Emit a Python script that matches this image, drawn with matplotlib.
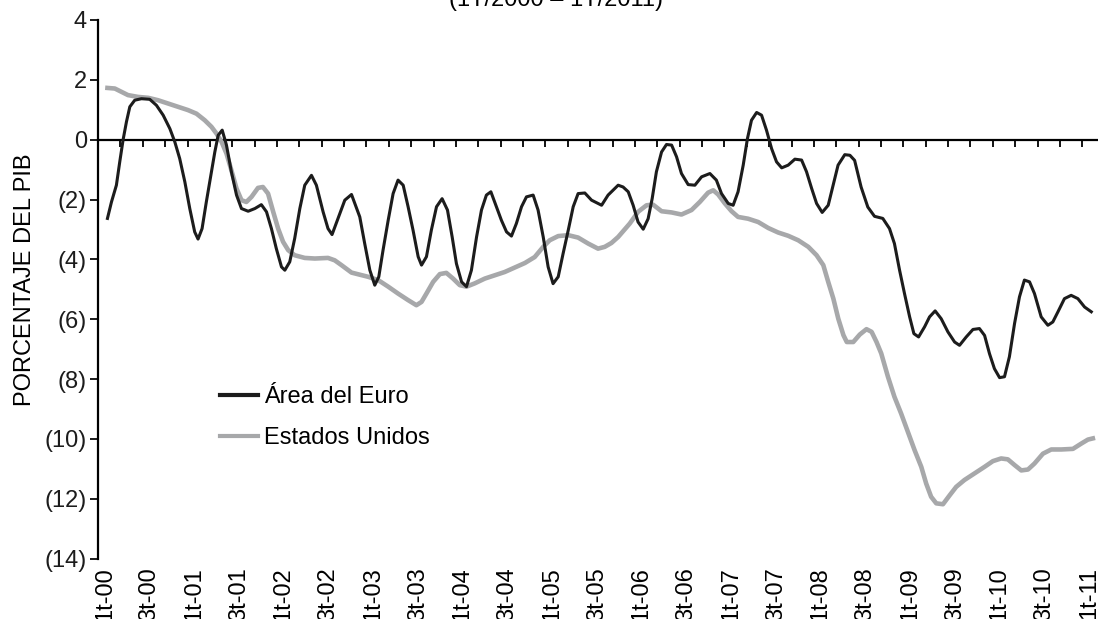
"""Saldo fiscal: Area del Euro vs Estados Unidos (1T/2000 - 1T/2011)"""
import matplotlib
matplotlib.use('Agg')
import matplotlib.pyplot as plt

plt.rcParams['font.family'] = ['Liberation Sans', 'DejaVu Sans']

# time in quarters counted from 1t-00 (0 = 1t-00, 44 = 1t-11)
euro_t = [0.00, 0.18, 0.40, 0.55, 0.70, 0.85, 1.00, 1.22, 1.52, 1.89, 2.19, 2.49, 2.79, 3.01,
          3.23, 3.46, 3.68, 3.90, 4.05, 4.23, 4.42, 4.65, 4.80, 4.95, 5.13, 5.32, 5.54, 5.77,
          5.99, 6.29, 6.59, 6.88, 7.11, 7.33, 7.55, 7.78, 7.93, 8.15, 8.37, 8.60, 8.82, 9.12,
          9.34, 9.64, 9.86, 10.04, 10.31, 10.61, 10.91, 11.28, 11.50, 11.73, 11.95, 12.13,
          12.32, 12.55, 12.77, 12.99, 13.22, 13.44, 13.66, 13.89, 14.04, 14.26, 14.48, 14.71,
          14.96, 15.20, 15.41, 15.60, 15.83, 16.05, 16.27, 16.50, 16.72, 16.94, 17.14, 17.31,
          17.61, 17.84, 18.06, 18.28, 18.51, 18.73, 19.03, 19.25, 19.48, 19.70, 19.92, 20.15,
          20.37, 20.60, 20.82, 21.04, 21.34, 21.64, 22.09, 22.38, 22.83, 23.05, 23.28, 23.50,
          23.72, 23.95, 24.17, 24.35, 24.54, 24.77, 24.99, 25.22, 25.44, 25.66, 25.96, 26.26,
          26.56, 26.93, 27.22, 27.45, 27.75, 27.97, 28.19, 28.42, 28.61, 28.79, 29.02, 29.24,
          29.46, 29.69, 29.91, 30.14, 30.43, 30.73, 31.03, 31.25, 31.48, 31.70, 31.95, 32.22,
          32.44, 32.66, 32.96, 33.19, 33.40, 33.69, 33.99, 34.29, 34.66, 34.96, 35.18, 35.41,
          35.63, 35.86, 36.05, 36.26, 36.53, 36.75, 37.00, 37.27, 37.57, 37.87, 38.09, 38.39,
          38.69, 38.98, 39.21, 39.43, 39.65, 39.88, 40.10, 40.32, 40.55, 40.77, 40.99, 41.22,
          41.44, 41.74, 42.04, 42.26, 42.49, 42.78, 43.08, 43.38, 43.68, 43.98]
euro_v = [-2.63, -2.08, -1.52, -0.74, 0.00, 0.60, 1.10, 1.32, 1.37, 1.35, 1.15, 0.82, 0.37, -0.07,
          -0.63, -1.41, -2.30, -3.08, -3.32, -2.97, -2.08, -1.07, -0.41, 0.15, 0.32, -0.18, -1.07,
          -1.85, -2.30, -2.39, -2.30, -2.17, -2.41, -2.97, -3.64, -4.25, -4.36, -4.08, -3.30,
          -2.30, -1.52, -1.19, -1.52, -2.41, -2.97, -3.17, -2.63, -2.02, -1.83, -2.58, -3.47,
          -4.36, -4.86, -4.58, -3.69, -2.69, -1.80, -1.35, -1.52, -2.24, -3.02, -3.91, -4.19,
          -3.91, -3.02, -2.24, -1.97, -2.35, -3.25, -4.14, -4.75, -4.91, -4.36, -3.25, -2.35,
          -1.85, -1.74, -2.08, -2.69, -3.08, -3.22, -2.80, -2.24, -1.91, -1.85, -2.35, -3.25,
          -4.25, -4.81, -4.58, -3.80, -3.02, -2.24, -1.80, -1.78, -2.02, -2.19, -1.85, -1.52,
          -1.58, -1.74, -2.19, -2.75, -2.99, -2.64, -1.97, -1.07, -0.41, -0.16, -0.18, -0.57,
          -1.13, -1.50, -1.52, -1.24, -1.13, -1.35, -1.80, -2.13, -2.19, -1.74, -0.85, 0.04,
          0.65, 0.91, 0.82, 0.32, -0.30, -0.74, -0.94, -0.85, -0.65, -0.68, -1.07, -1.63, -2.13,
          -2.43, -2.19, -1.52, -0.85, -0.50, -0.52, -0.69, -1.58, -2.25, -2.56, -2.63, -2.97,
          -3.47, -4.36, -5.14, -5.92, -6.48, -6.59, -6.25, -5.92, -5.72, -5.98, -6.42, -6.76,
          -6.87, -6.59, -6.34, -6.31, -6.54, -7.15, -7.65, -7.95, -7.92, -7.25, -6.14, -5.25,
          -4.69, -4.75, -5.14, -5.92, -6.20, -6.09, -5.75, -5.31, -5.20, -5.31, -5.59, -5.75]

usa_t = [0.00, 0.33, 0.62, 0.92, 1.37, 1.82, 2.26, 2.71, 3.16, 3.60, 3.98, 4.35, 4.65, 4.87,
         5.10, 5.32, 5.54, 5.77, 5.99, 6.21, 6.44, 6.73, 6.95, 7.18, 7.41, 7.63, 7.85, 8.08,
         8.37, 8.82, 9.27, 9.86, 10.16, 10.46, 10.91, 11.65, 12.10, 12.55, 12.99, 13.44, 13.81,
         14.04, 14.26, 14.56, 14.86, 15.15, 15.45, 15.75, 16.05, 16.42, 16.87, 17.31, 17.76,
         18.21, 18.66, 19.10, 19.48, 19.77, 20.15, 20.60, 21.04, 21.49, 21.93, 22.23, 22.53,
         22.83, 23.35, 23.72, 24.10, 24.39, 24.77, 25.22, 25.66, 26.11, 26.48, 26.85, 27.08,
         27.30, 27.60, 27.90, 28.19, 28.64, 29.09, 29.54, 29.98, 30.43, 30.88, 31.33, 31.70,
         32.00, 32.22, 32.45, 32.67, 32.90, 33.05, 33.34, 33.63, 33.93, 34.16, 34.38, 34.59,
         34.89, 35.18, 35.48, 35.78, 36.08, 36.38, 36.60, 36.82, 37.05, 37.35, 37.65, 37.94,
         38.31, 38.76, 39.21, 39.58, 39.95, 40.25, 40.55, 40.85, 41.15, 41.44, 41.82, 42.19,
         42.64, 43.16, 43.54, 43.83, 44.05]
usa_v = [1.73, 1.71, 1.60, 1.49, 1.43, 1.40, 1.32, 1.21, 1.10, 0.99, 0.87, 0.65, 0.43, 0.21,
         -0.07, -0.46, -1.02, -1.63, -2.02, -2.08, -1.91, -1.61, -1.58, -1.80, -2.41, -2.97,
         -3.41, -3.69, -3.86, -3.95, -3.97, -3.95, -4.03, -4.19, -4.44, -4.58, -4.69, -4.91,
         -5.14, -5.36, -5.53, -5.42, -5.14, -4.75, -4.49, -4.45, -4.64, -4.86, -4.91, -4.80,
         -4.64, -4.53, -4.42, -4.27, -4.12, -3.92, -3.58, -3.36, -3.22, -3.19, -3.27, -3.47,
         -3.64, -3.58, -3.45, -3.25, -2.80, -2.41, -2.19, -2.17, -2.39, -2.43, -2.50, -2.35,
         -2.08, -1.77, -1.69, -1.83, -2.13, -2.39, -2.58, -2.64, -2.75, -2.95, -3.10, -3.21,
         -3.36, -3.58, -3.86, -4.19, -4.75, -5.31, -5.98, -6.53, -6.76, -6.76, -6.51, -6.33,
         -6.42, -6.76, -7.14, -7.92, -8.59, -9.15, -9.76, -10.37, -10.93, -11.49, -11.93,
         -12.15, -12.18, -11.88, -11.60, -11.37, -11.15, -10.93, -10.74, -10.65, -10.68,
         -10.87, -11.05, -11.02, -10.82, -10.49, -10.35, -10.35, -10.33, -10.15, -10.02, -9.98]

x_labels = ['1t-00', '3t-00', '1t-01', '3t-01', '1t-02', '3t-02', '1t-03', '3t-03',
            '1t-04', '3t-04', '1t-05', '3t-05', '1t-06', '3t-06', '1t-07', '3t-07',
            '1t-08', '3t-08', '1t-09', '3t-09', '1t-10', '3t-10', '1t-11']
y_values = [-14, -12, -10, -8, -6, -4, -2, 0, 2, 4]
y_labels = ['(14)', '(12)', '(10)', '(8)', '(6)', '(4)', '(2)', '0', '2', '4']

BLACK = '#1c1c1c'
GREY = '#a7a8aa'
FS = 17


def plot_chart():
    """Draw both deficit series with an Excel-like category axis"""
    fig = plt.figure(figsize=(10.98, 6.19), dpi=100)
    ax = fig.add_axes([0.0893, 0.0974, 0.9107, 0.8703])

    ax.plot(usa_t, usa_v, color=GREY, lw=3.3, label='Estados Unidos', zorder=3)
    ax.plot(euro_t, euro_v, color=BLACK, lw=2.2, label='Área del Euro', zorder=4)

    ax.set_xlim(-0.42, 44.28)
    ax.set_ylim(-14, 4)

    # y axis
    ax.set_yticks(y_values, labels=y_labels)
    ax.tick_params(axis='y', direction='out', length=6, width=1.4,
                   labelsize=FS, pad=2, colors=BLACK)
    ax.spines['left'].set_linewidth(1.6)
    ax.spines['top'].set_visible(False)
    ax.spines['right'].set_visible(False)

    # x axis line crosses at zero, ticks every quarter, no labels there
    ax.spines['bottom'].set_position(('data', 0))
    ax.spines['bottom'].set_linewidth(1.6)
    ax.set_xticks([k - 0.42 for k in range(45)])
    ax.tick_params(axis='x', direction='out', length=5, width=1.3,
                   labelbottom=False)

    # category labels below the plot
    sec = ax.secondary_xaxis('bottom')
    sec.set_xticks([q - 0.12 for q in range(0, 45, 2)], labels=x_labels)
    sec.tick_params(length=0, pad=6, labelsize=FS, labelrotation=90)
    sec.spines['bottom'].set_visible(False)

    ax.set_ylabel('PORCENTAJE DEL PIB', fontsize=FS)
    ax.yaxis.set_label_coords(-0.062, 0.517)

    handles, labels = ax.get_legend_handles_labels()
    leg = ax.legend(handles[::-1], labels[::-1], loc='upper left',
                    bbox_to_anchor=(220 / 1098, 1 - 386 / 619),
                    bbox_transform=fig.transFigure, frameon=False, fontsize=FS,
                    handlelength=1.6, handletextpad=0.25, labelspacing=0.8,
                    borderpad=0, borderaxespad=0)
    for line in leg.get_lines():
        line.set_linewidth(3.0)

    fig.text(556 / 1098, 1 - 6 / 619, '(1T/2000 – 1T/2011)', ha='center',
             va='baseline', fontsize=FS)

    fig.savefig('out.png', dpi=100)


if __name__ == '__main__':
    plot_chart()
